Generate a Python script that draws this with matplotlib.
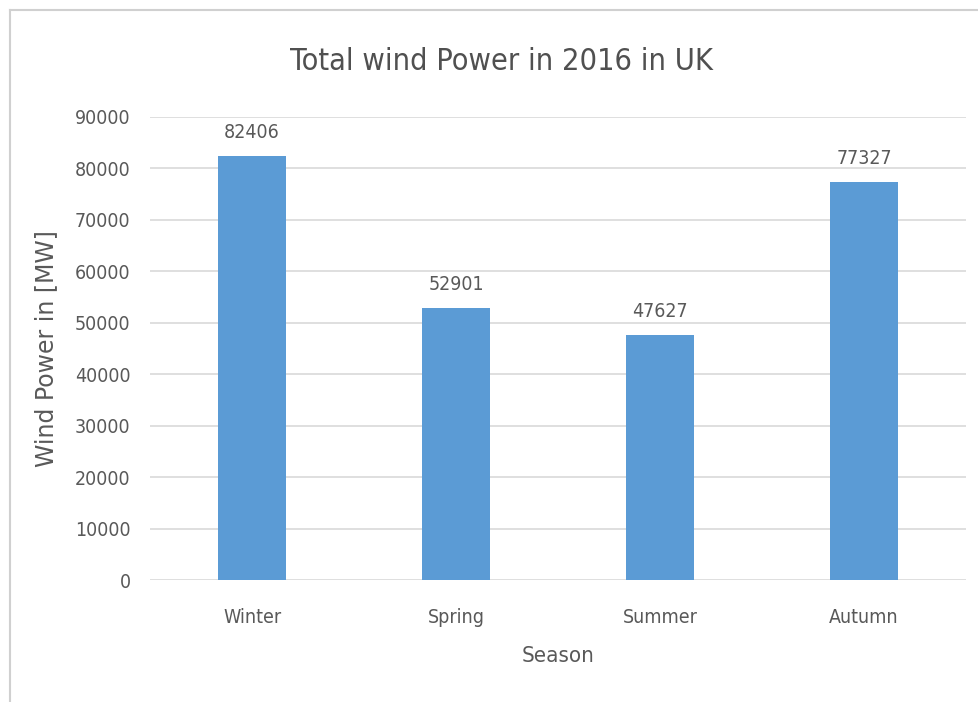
import matplotlib
matplotlib.use("Agg")
from matplotlib import pyplot as plt
from matplotlib.lines import Line2D

seasons = ["Winter", "Spring", "Summer", "Autumn"]
power_mw = [82406, 52901, 47627, 77327]
y_ticks = list(range(0, 90001, 10000))

bar_color = "#5B9BD5"
text_color = "#595959"
narrow = dict(family="DejaVu Sans", stretch="condensed")

fig = plt.figure(figsize=(9.79, 7.02), dpi=100)
ax = fig.add_axes([150 / 979, 122 / 702, 816 / 979, 463 / 702])

x = range(len(seasons))
bars = ax.bar(x, power_mw, width=0.333, color=bar_color, zorder=3)
for rect, val in zip(bars, power_mw):
    ax.annotate(str(val), (rect.get_x() + rect.get_width() / 2, val),
                xytext=(0, 10), textcoords="offset points", ha="center", va="bottom",
                fontsize=14, color=text_color, **narrow)

ax.set_xlim(-0.5, 3.5)
ax.set_ylim(0, 90000)
ax.set_yticks(y_ticks)
ax.set_yticklabels([str(t) for t in y_ticks], fontsize=14, color=text_color, **narrow)
ax.set_xticks(list(x))
ax.set_xticklabels(seasons, fontsize=14, color=text_color, **narrow)
ax.tick_params(length=0, pad=14)
ax.tick_params(axis="x", pad=20)
ax.grid(axis="y", color="#D9D9D9", linewidth=1.2, zorder=0)
for s in ax.spines.values():
    s.set_visible(False)

ax.set_xlabel("Season", fontsize=16, color=text_color, labelpad=14, **narrow)
ax.set_ylabel("Wind Power in [MW]", family="DejaVu Sans", fontsize=17,
              color=text_color, labelpad=12)
fig.text(0.512, 0.913, "Total wind Power in 2016 in UK", ha="center", va="center",
         fontsize=22, color="#505050", **narrow)

# chart frame edges (left and top)
fig.add_artist(Line2D([10 / 979, 10 / 979], [0, 1 - 10 / 702], color="#D0D0D0", lw=1.5))
fig.add_artist(Line2D([10 / 979, 1], [1 - 10 / 702, 1 - 10 / 702], color="#D0D0D0", lw=1.5))

fig.savefig("out.png", dpi=100)
